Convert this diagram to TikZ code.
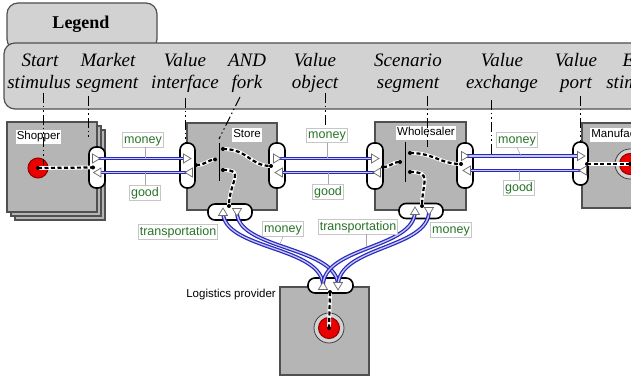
\documentclass[tikz,border=0pt]{standalone}
\usepackage{fontspec}
\setmainfont{Liberation Serif}
\newfontfamily\arialf{Liberation Sans}
\usetikzlibrary{shapes.geometric}
\definecolor{boxgray}{RGB}{181,181,181}
\definecolor{leggray}{RGB}{210,210,210}
\definecolor{bordergray}{RGB}{80,80,80}
\definecolor{exblue}{RGB}{40,40,190}
\definecolor{exlight}{RGB}{200,200,245}
\definecolor{lblgreen}{RGB}{40,115,40}
\definecolor{stimred}{RGB}{235,0,0}
\tikzset{
  legshape/.style={draw=bordergray, line width=1.2pt, fill=leggray, rounded corners=11pt},
  legtxt/.style={font=\itshape\fontsize{19}{23}\selectfont, anchor=base, inner sep=0pt},
  actor/.style={draw=bordergray, line width=1.3pt, fill=boxgray, inner sep=0pt},
  aname/.style={font=\arialf\fontsize{11.5}{12}\selectfont, fill=white, inner sep=1.2pt, text height=8.5pt, text depth=2.5pt},
  iface/.style={draw=black, line width=1.6pt, fill=white, rounded corners=7pt, inner sep=0pt},
  portline/.style={draw=gray!85!black, line width=0.7pt, fill=white, line join=miter},
  pR/.pic={\draw[portline] (-3.5,-4.5) -- (4,0) -- (-3.5,4.5) -- cycle;},
  pL/.pic={\draw[portline] (3.5,-4.5) -- (-4,0) -- (3.5,4.5) -- cycle;},
  pU/.pic={\draw[portline] (-4.5,3.5) -- (0,-4) -- (4.5,3.5) -- cycle;},
  pD/.pic={\draw[portline] (-4.5,-3.5) -- (0,4) -- (4.5,-3.5) -- cycle;},
  exch/.style={draw=exblue, line width=1.25pt, double=exlight, double distance=1.3pt},
  dep/.style={draw=black, line width=2.2pt, dash pattern=on 4pt off 2.5pt,
    preaction={draw=white, line width=3.8pt, solid}},
  forkbar/.style={draw=black, line width=1pt},
  vlabel/.style={font=\arialf\fontsize{12.5}{12.5}\selectfont, text=lblgreen, fill=white,
    draw=gray!45, line width=0.5pt, inner sep=1.5pt, text height=9pt, text depth=2.5pt},
  lconn/.style={draw=gray!70, line width=0.5pt},
  leader/.style={draw=black, line width=0.9pt,
    dash pattern=on 10pt off 3pt on 1.5pt off 3pt on 1.5pt off 3pt},
  stimS/.style={circle, draw=red!55!black, line width=1pt, fill=stimred, minimum size=20pt, inner sep=0pt},
  ring/.style={circle, draw=black!75, line width=0.8pt, fill=gray!35, minimum size=30pt, inner sep=0pt},
}
\begin{document}
\begin{tikzpicture}[x=1pt,y=-1pt]
\clip (0,0) rectangle (631,379);
\fill[white] (0,0) rectangle (631,379);

% ---------- legend ----------
\draw[legshape] (7,3) rectangle (157,50);
\draw[legshape] (4,43) rectangle (700,109);
\node[font=\bfseries\fontsize{18}{18}\selectfont, anchor=base, inner sep=0pt] (legtitle) at (81,29) {Legend};
\node[legtxt] (l1a) at (40,67) {Start};      \node[legtxt] (l1b) at (39,89) {stimulus};
\node[legtxt] (l2a) at (108,67) {Market};    \node[legtxt] (l2b) at (107,89) {segment};
\node[legtxt] (l3a) at (185,67) {Value};     \node[legtxt] (l3b) at (185,89) {interface};
\node[legtxt] (l4a) at (247,67) {AND};       \node[legtxt] (l4b) at (247,89) {fork};
\node[legtxt] (l5a) at (315,67) {Value};     \node[legtxt] (l5b) at (315,89) {object};
\node[legtxt] (l6a) at (408,67) {Scenario};  \node[legtxt] (l6b) at (408,89) {segment};
\node[legtxt] (l7a) at (502,67) {Value};     \node[legtxt] (l7b) at (502,89) {exchange};
\node[legtxt] (l8a) at (576,67) {Value};     \node[legtxt] (l8b) at (576,89) {port};
\node[legtxt] (l9a) at (638,67) {End};       \node[legtxt] (l9b) at (638,89) {stimulus};

% ---------- actors ----------
\node[actor, minimum width=90pt, minimum height=90pt] (shop3) at (60,175) {};
\node[actor, minimum width=90pt, minimum height=90pt] (shop2) at (56,171) {};
\node[actor, minimum width=90pt, minimum height=90pt] (shop) at (52,167) {};
\node[actor, minimum width=90pt, minimum height=87pt] (store) at (232,166.5) {};
\node[actor, minimum width=91pt, minimum height=88pt] (whole) at (420.5,166) {};
\node[actor, minimum width=98pt, minimum height=85pt] (manu) at (631,165.5) {};
\node[actor, minimum width=89pt, minimum height=88pt] (logi) at (324.5,331) {};

\node[aname] (shopname) at (38.5,137) {Shopper};
\node[aname] (storename) at (247,135) {Store};
\node[aname] (wholename) at (426,133) {Wholesaler};
\node[aname, anchor=west] (manuname) at (590,135) {Manufacturer};
\node[font=\arialf\fontsize{11.5}{12}\selectfont, anchor=east, inner sep=0pt] (loginame) at (276,295) {Logistics provider};

% ---------- stimuli ----------
\node[stimS] (shStim) at (38,168) {};
\node[ring] (mfRing) at (630,164) {};
\node[stimS, minimum size=21pt] (mfStim) at (630,164) {};
\node[ring] (lpRing) at (329,328) {};
\node[stimS, minimum size=21pt] (lpStim) at (329,328) {};

% ---------- value interfaces ----------
\node[iface, minimum width=16pt, minimum height=41pt] (shIf) at (97,167.5) {};
\node[iface, minimum width=15pt, minimum height=45pt] (stL) at (187.5,165.5) {};
\node[iface, minimum width=16pt, minimum height=45pt] (stR) at (277,165.5) {};
\node[iface, minimum width=44pt, minimum height=16pt] (stB) at (230,212) {};
\node[iface, minimum width=16pt, minimum height=46pt] (whL) at (375,166) {};
\node[iface, minimum width=16pt, minimum height=45pt] (whR) at (465,165.5) {};
\node[iface, minimum width=44pt, minimum height=15pt] (whB) at (421,211) {};
\node[iface, minimum width=15pt, minimum height=43pt] (mfIf) at (580.5,163.5) {};
\node[iface, minimum width=45pt, minimum height=15pt] (lpT) at (330.5,285.5) {};

% ---------- AND forks ----------
\coordinate (stFt) at (219,143); \coordinate (stFb) at (219,181);
\coordinate (whFt) at (405,142); \coordinate (whFb) at (405,182);
\draw[forkbar] (stFt) -- (stFb);
\draw[forkbar] (whFt) -- (whFb);

% ---------- dependency paths ----------
\coordinate (shD) at (93,167.5);
\coordinate (stD1) at (196,165); \coordinate (stFi) at (215,159.5);
\coordinate (stFo1) at (223,149); \coordinate (stD2) at (271,166);
\coordinate (stFo2) at (223,170); \coordinate (stD3) at (229,206);
\coordinate (whD1) at (383,167); \coordinate (whFi) at (400,162);
\coordinate (whFo1) at (410,153); \coordinate (whD2) at (461,164);
\coordinate (whFo2) at (410,172); \coordinate (whD3) at (422,206);
\coordinate (mfD) at (587,164);
\coordinate (lpD) at (330,292);

\draw[dep] (shStim.center) -- (shD);
\draw[dep] (stD1) .. controls (206,165) and (207,160) .. (stFi);
\draw[dep] (stFo1) .. controls (248,149) and (250,166) .. (stD2);
\draw[dep] (stFo2) .. controls (246,170) and (229,182) .. (stD3);
\draw[dep] (whD1) .. controls (391,167) and (392,162) .. (whFi);
\draw[dep] (whFo1) .. controls (434,153) and (440,164) .. (whD2);
\draw[dep] (whFo2) .. controls (433,172) and (422,182) .. (whD3);
\draw[dep] (mfD) -- (mfStim.center);
\draw[dep] (lpD) -- (lpStim.center);

\foreach \p in {shStim.center,shD,stD1,stFi,stFo1,stD2,stFo2,stD3,whD1,whFi,whFo1,whD2,whFo2,whD3,mfD,lpD,lpStim.center,mfStim.center}
  \fill[black] (\p) circle (2pt);

% ---------- ports ----------
\coordinate (shP1) at (96,158.5);   \coordinate (shP2) at (97.5,172.5);
\coordinate (stLP1) at (187,158.5); \coordinate (stLP2) at (189,172.5);
\coordinate (stRP1) at (277,158.5); \coordinate (stRP2) at (279,172.5);
\coordinate (whLP1) at (375,158.5); \coordinate (whLP2) at (377,172.5);
\coordinate (whRP1) at (465,156);   \coordinate (whRP2) at (467,170.5);
\coordinate (mfP1) at (581,156);    \coordinate (mfP2) at (583,170.5);
\coordinate (stBP1) at (223,212);   \coordinate (stBP2) at (237,212);
\coordinate (whBP1) at (415,211);   \coordinate (whBP2) at (429,211);
\coordinate (lpP1) at (323,286);    \coordinate (lpP2) at (338,286);

% ---------- value exchanges ----------
\draw[exch] (shP1) -- (stLP1);
\draw[exch] (shP2) -- (stLP2);
\draw[exch] (stRP1) -- (whLP1);
\draw[exch] (stRP2) -- (whLP2);
\draw[exch] (whRP1) -- (mfP1);
\draw[exch] (whRP2) -- (mfP2);
\draw[exch] (lpP1) .. controls +(0,-40) and +(0,38) .. (stBP1);
\draw[exch] (stBP2) .. controls +(0,38) and +(0,-40) .. (lpP2);
\draw[exch] (lpP1) .. controls +(0,-40) and +(0,38) .. (whBP1);
\draw[exch] (whBP2) .. controls +(0,38) and +(0,-40) .. (lpP2);

\pic at (shP1) {pR};  \pic at (shP2) {pL};
\pic at (stLP1) {pR}; \pic at (stLP2) {pL};
\pic at (stRP1) {pR}; \pic at (stRP2) {pL};
\pic at (whLP1) {pR}; \pic at (whLP2) {pL};
\pic at (whRP1) {pR}; \pic at (whRP2) {pL};
\pic at (mfP1) {pR};  \pic at (mfP2) {pL};
\pic at (stBP1) {pU}; \pic at (stBP2) {pD};
\pic at (whBP1) {pU}; \pic at (whBP2) {pD};
\pic at (lpP1) {pU};  \pic at (lpP2) {pD};

% ---------- value object labels ----------
\node[vlabel] (m1) at (143,140) {money};
\node[vlabel] (g1) at (145,193) {good};
\node[vlabel] (m2) at (327,135.5) {money};
\node[vlabel] (g2) at (328,192) {good};
\node[vlabel] (m3) at (517,140) {money};
\node[vlabel] (g3) at (519,188) {good};
\node[vlabel] (t1) at (178,232) {transportation};
\node[vlabel] (m4) at (283,229) {money};
\node[vlabel] (t2) at (358,227) {transportation};
\node[vlabel] (m5) at (451,230) {money};

\coordinate (m1e) at (145,158.5); \coordinate (g1e) at (145,172.5);
\coordinate (m2e) at (327,158.5); \coordinate (g2e) at (328,172.5);
\coordinate (m3e) at (521,156);   \coordinate (g3e) at (519,170.5);
\coordinate (m4e) at (280,244);   \coordinate (t2e) at (366,247);
\draw[lconn] (m1.south -| m1e) -- (m1e);
\draw[lconn] (g1.north) -- (g1e);
\draw[lconn] (m2.south) -- (m2e);
\draw[lconn] (g2.north) -- (g2e);
\draw[lconn] (m3.south) -- (m3e);
\draw[lconn] (g3.north) -- (g3e);
\draw[lconn] (m4.south) -- (m4e);
\draw[lconn] (t2.south -| t2e) -- (t2e);

% ---------- legend leaders ----------
\coordinate (k1a) at (43,93);  \coordinate (k1b) at (43,165);
\coordinate (k2a) at (88,96);  \coordinate (k2b) at (88,140);
\coordinate (k3a) at (185,98); \coordinate (k3b) at (185,143);
\coordinate (k4a) at (240,97); \coordinate (k4b) at (219,139);
\coordinate (k5a) at (325,93); \coordinate (k5b) at (325,128);
\coordinate (k6a) at (427,96); \coordinate (k6b) at (427,147);
\coordinate (k7a) at (491,100); \coordinate (k7b) at (491,156);
\coordinate (k8a) at (580,96); \coordinate (k8b) at (580,142);
\foreach \i in {1,...,8} \draw[leader] (k\i a) -- (k\i b);
\end{tikzpicture}
\end{document}
